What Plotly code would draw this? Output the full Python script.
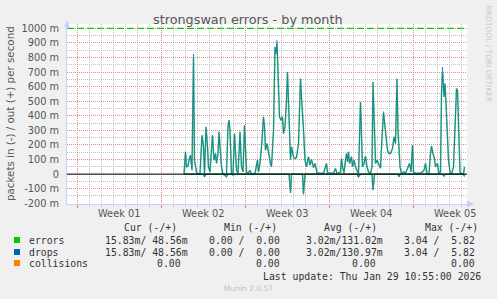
import plotly.graph_objects as go

# ---------------- data (values in milli-packets/s, time in hours since window start 2025-12-28 04:00) ----------
hours = [234, 237, 239, 242, 244, 247, 250, 253, 255, 259,
         262, 266, 270, 273, 275, 278, 281, 283, 286, 289,
         291, 294, 297, 299, 302, 304, 307, 309, 312, 315,
         319, 322, 324, 326, 329, 332, 335, 339, 342, 346,
         349, 352, 355, 359, 362, 366, 369, 376, 381, 383,
         386, 389, 393, 395, 397, 400, 404, 407, 409, 413,
         416, 418, 420, 423, 425, 428, 431, 433, 436, 439,
         441, 444, 447, 449, 453, 456, 459, 463, 465, 467,
         469, 471, 473, 476, 479, 483, 486, 489, 493, 496,
         500, 507, 513, 517, 519, 521, 527, 533, 537, 540,
         547, 549, 551, 554, 557, 559, 561, 563, 565, 569,
         571, 574, 577, 580, 583, 587, 589, 591, 594, 597,
         600, 603, 607, 610, 612, 615, 617, 620, 623, 627,
         630, 633, 636, 639, 641, 644, 647, 651, 654, 657,
         660, 662, 664, 666, 669, 674, 677, 683, 685, 688,
         691, 693, 697, 704, 711, 714, 717, 720, 724, 727,
         729, 732, 735, 737, 741, 744, 747, 749, 751, 754,
         756, 758, 761, 763, 766, 769, 773, 776, 779, 781,
         783, 786, 789, 793, 795]

errors_out = [0, 153, 50, 55, 96, 130, 27, 800, 96, 15,
              0, 5, 267, 187, 0, 324, 187, 50, 15, 187,
              267, 96, 141, 73, 141, 290, 96, 50, 0, 0,
              0, 324, 370, 301, 0, 0, 278, 27, 5, 290,
              50, 15, 335, 15, 5, 27, 0, 5, 96, 15,
              73, 187, 393, 324, 164, 210, 119, 73, 50, 301,
              872, 826, 890, 598, 393, 370, 393, 278, 324, 507,
              700, 393, 100, 187, 119, 107, 114, 210, 507, 655,
              530, 370, 301, 96, 50, 119, 62, 100, 45, 73,
              9, 5, 5, 50, 73, 9, 5, 5, 39, 5,
              15, 107, 50, 9, 96, 141, 85, 153, 73, 119,
              50, 96, 50, 27, 0, 495, 187, 50, 73, 123,
              50, 15, 5, 50, 632, 187, 73, 96, 73, 40,
              250, 420, 324, 187, 164, 141, 141, 176, 256, 210,
              655, 301, 107, 50, 5, 15, 5, 50, 73, 15,
              199, 15, 5, 5, 15, 27, 73, 5, 0, 141,
              192, 141, 107, 50, 73, 5, 15, 552, 700, 530,
              621, 484, 256, 96, 15, 0, 50, 370, 587, 575,
              278, 15, 0, 0, 50]

drops_out = [0, 153, 50, 55, 96, 130, 27, 826, 96, 15,
             0, 5, 267, 187, 0, 324, 187, 50, 15, 187,
             267, 96, 141, 73, 141, 290, 96, 50, 0, 0,
             0, 324, 370, 301, 0, 0, 278, 27, 5, 290,
             50, 15, 335, 15, 5, 27, 0, 5, 96, 15,
             73, 187, 393, 324, 164, 210, 119, 73, 50, 301,
             872, 826, 918, 598, 393, 370, 393, 278, 324, 507,
             700, 393, 100, 187, 119, 107, 114, 210, 507, 655,
             530, 370, 301, 96, 50, 119, 62, 100, 45, 73,
             9, 5, 5, 50, 73, 9, 5, 5, 39, 5,
             15, 107, 50, 9, 96, 141, 85, 153, 73, 119,
             50, 96, 50, 27, 0, 495, 187, 50, 73, 123,
             50, 15, 5, 50, 632, 187, 73, 96, 73, 40,
             250, 430, 324, 187, 164, 141, 141, 176, 256, 210,
             655, 301, 107, 50, 5, 15, 5, 50, 73, 15,
             199, 15, 5, 5, 15, 27, 73, 5, 0, 141,
             192, 141, 107, 50, 73, 5, 15, 552, 735, 530,
             621, 484, 256, 96, 15, 0, 50, 370, 587, 575,
             278, 15, 0, 0, 50]

errors_in = [0, 0, 0, 0, 0, 0, 0, 0, 0, 0,
             0, 0, 0, 0, 18, 0, 0, 0, 0, 0,
             0, 0, 0, 0, 0, 0, 0, 0, 0, 7,
             18, 0, 0, 0, 0, 7, 0, 0, 0, 0,
             0, 0, 0, 0, 0, 0, 0, 0, 0, 0,
             0, 0, 0, 0, 0, 0, 0, 0, 0, 0,
             0, 0, 0, 0, 0, 0, 0, 0, 0, 0,
             0, 0, 125, 0, 0, 0, 0, 0, 0, 0,
             0, 0, 132, 0, 0, 0, 0, 0, 0, 0,
             0, 0, 0, 0, 0, 0, 0, 0, 0, 0,
             0, 0, 0, 0, 0, 0, 0, 0, 0, 0,
             0, 0, 0, 0, 18, 0, 0, 0, 0, 0,
             0, 0, 0, 0, 110, 0, 0, 0, 0, 0,
             0, 0, 0, 0, 0, 0, 0, 0, 0, 0,
             0, 0, 18, 0, 0, 0, 0, 0, 0, 0,
             0, 0, 0, 0, 0, 0, 0, 0, 0, 0,
             0, 0, 0, 0, 0, 0, 0, 0, 0, 13,
             0, 0, 0, 0, 0, 0, 0, 0, 0, 0,
             0, 0, 0, 0, 16]

drops_in = [0, 0, 0, 0, 0, 0, 0, 0, 0, 0,
            0, 0, 0, 0, 18, 0, 0, 0, 0, 0,
            0, 0, 0, 0, 0, 0, 0, 0, 0, 7,
            18, 0, 0, 0, 0, 7, 0, 0, 0, 0,
            0, 0, 0, 0, 0, 0, 0, 0, 0, 0,
            0, 0, 0, 0, 0, 0, 0, 0, 0, 0,
            0, 0, 0, 0, 0, 0, 0, 0, 0, 0,
            0, 0, 130, 0, 0, 0, 0, 0, 0, 0,
            0, 0, 140, 0, 0, 0, 0, 0, 0, 0,
            0, 0, 0, 0, 0, 0, 0, 0, 0, 0,
            0, 0, 0, 0, 0, 0, 0, 0, 0, 0,
            0, 0, 0, 0, 18, 0, 0, 0, 0, 0,
            0, 0, 0, 0, 110, 0, 0, 0, 0, 0,
            0, 0, 0, 0, 0, 0, 0, 0, 0, 0,
            0, 0, 18, 0, 0, 0, 0, 0, 0, 0,
            0, 0, 0, 0, 0, 0, 0, 0, 0, 0,
            0, 0, 0, 0, 0, 0, 0, 0, 0, 13,
            0, 0, 0, 0, 0, 0, 0, 0, 0, 0,
            0, 0, 0, 0, 16]

collisions_value = 0.0           # collisions read as 0.00 everywhere
warning_level = 1000             # dashed green rule (m)
window_hours = 800

week_starts = [20, 188, 356, 524, 692]        # Mondays 00:00
week_labels = ["Week 01", "Week 02", "Week 03", "Week 04", "Week 05"]

y_ticks = [-200, -100, 0, 100, 200, 300, 400, 500, 600, 700, 800, 900, 1000]
y_tick_text = ["-200 m", "-100 m", "0", "100 m", "200 m", "300 m", "400 m",
               "500 m", "600 m", "700 m", "800 m", "900 m", "1000 m"]

series_names = ["errors", "drops", "collisions"]
series_colors = ["#00cc00", "#0066b3", "#ff8000"]
headers = ["Cur (-/+)", "Min (-/+)", "Avg (-/+)", "Max (-/+)"]
table_rows = [
    ["15.83m/ 48.56m", "0.00 /  0.00", "3.02m/131.02m", "3.04 /  5.82"],
    ["15.83m/ 48.56m", "0.00 /  0.00", "3.02m/130.97m", "3.04 /  5.82"],
    ["0.00", "0.00", "0.00", "0.00"],
]
last_update = "Last update: Thu Jan 29 10:55:00 2026"

# ---------------- layout geometry ----------------
W, H = 497, 299
ML, MR, MT, MB = 67, 30, 24, 95
PW, PH = W - ML - MR, H - MT - MB


def fx(px):
    return (px - ML) / PW


def fy(py):
    return (H - MB - py) / PH


fig = go.Figure()

# collisions
fig.add_trace(go.Scatter(x=hours, y=[collisions_value for _ in hours], mode="lines",
                         line=dict(color=series_colors[2], width=1), hoverinfo="skip"))
# errors
fig.add_trace(go.Scatter(x=hours, y=errors_out, mode="lines", opacity=0.55,
                         line=dict(color=series_colors[0], width=1.6), hoverinfo="skip"))
fig.add_trace(go.Scatter(x=hours, y=[-v for v in errors_in], mode="lines", opacity=0.55,
                         line=dict(color=series_colors[0], width=1.6), hoverinfo="skip"))
# drops
fig.add_trace(go.Scatter(x=hours, y=drops_out, mode="lines", opacity=0.75,
                         line=dict(color=series_colors[1], width=1.1), hoverinfo="skip"))
fig.add_trace(go.Scatter(x=hours, y=[-v for v in drops_in], mode="lines", opacity=0.75,
                         line=dict(color=series_colors[1], width=1.1), hoverinfo="skip"))
# zero rule
fig.add_trace(go.Scatter(x=[0, window_hours], y=[0, 0], mode="lines",
                         line=dict(color="#000000", width=1), hoverinfo="skip"))
# warning rule
fig.add_trace(go.Scatter(x=[0, window_hours - 3], y=[warning_level, warning_level], mode="lines",
                         line=dict(color="#00cc00", width=1.4, dash="7px,3px"), hoverinfo="skip"))

red_grid = "rgba(225,120,120,0.75)"
gray_grid = "rgba(180,180,180,0.8)"

fig.update_layout(
    width=W, height=H,
    margin=dict(l=ML, r=MR, t=MT, b=MB, pad=0),
    paper_bgcolor="#f0f0f0", plot_bgcolor="#ffffff",
    showlegend=False,
    font=dict(family="DejaVu Sans", size=10, color="#555555"),
    xaxis=dict(range=[0, window_hours], tickmode="array", tickvals=week_starts,
               showticklabels=False, ticks="outside", ticklen=3, tickcolor="#e08080",
               showgrid=True, gridcolor=red_grid, griddash="1px,1px", gridwidth=1,
               minor=dict(tick0=week_starts[0], dtick=24, showgrid=True, gridcolor=gray_grid,
                          griddash="1px,1px", ticks="outside", ticklen=2, tickcolor="#cccccc"),
               showline=True, linecolor="#ccccff", linewidth=1, zeroline=False, fixedrange=True),
    yaxis=dict(range=[-205, 1030], tickmode="array", tickvals=y_ticks, ticktext=y_tick_text,
               tickfont=dict(size=9.8, color="#555555"), ticks="", ticklabelstandoff=5,
               showgrid=True, gridcolor=red_grid, griddash="1px,1px", gridwidth=1,
               minor=dict(tick0=0, dtick=50, showgrid=True, gridcolor=gray_grid, griddash="1px,1px"),
               showline=True, linecolor="#ccccff", linewidth=1, zeroline=False, fixedrange=True),
)

ann = []
# title
ann.append(dict(text="strongswan errors - by month", x=fx(248), y=fy(19), xref="paper", yref="paper",
                showarrow=False, font=dict(size=12.8, color="#555555"), xanchor="center", yanchor="middle"))
# y axis title
ann.append(dict(text="packets in (-) / out (+) per second", x=fx(10), y=fy(114), xref="paper", yref="paper",
                showarrow=False, textangle=-90, font=dict(size=10.3, color="#555555"),
                xanchor="center", yanchor="middle"))
# right vertical credit
ann.append(dict(text="RRDTOOL / TOBI OETIKER", x=fx(487.5), y=fy(54), xref="paper", yref="paper",
                showarrow=False, textangle=90, font=dict(size=7.5, color="#c8c8c8"),
                xanchor="center", yanchor="middle"))
# week labels (centred within each week)
for ws, lab in zip(week_starts, week_labels):
    ann.append(dict(text=lab, x=ws + 84, y=fy(213), xref="x", yref="paper", showarrow=False,
                    font=dict(size=9.8, color="#555555"), xanchor="center", yanchor="middle"))

mono = "DejaVu Sans Mono"
nb = lambda s: s.replace(" ", "\u00a0")
header_left = [122, 222, 322, 423]
for hx, htxt in zip(header_left, headers):
    ann.append(dict(text=nb(htxt), x=fx(hx), y=fy(227), xref="paper", yref="paper", showarrow=False,
                    font=dict(family=mono, size=9.8, color="#333333"), xanchor="left", yanchor="middle"))

row_y = [240, 252, 263]
col_right = [[190, 282, 385, 477], [190, 282, 385, 477], [183, 282, 378, 477]]
shapes = []
for name, color, ry, vals, rights in zip(series_names, series_colors, row_y, table_rows, col_right):
    shapes.append(dict(type="rect", xref="paper", yref="paper", x0=fx(14), x1=fx(20),
                       y0=fy(ry + 3), y1=fy(ry - 3), fillcolor=color, line=dict(width=0)))
    ann.append(dict(text=name, x=fx(27), y=fy(ry), xref="paper", yref="paper", showarrow=False,
                    font=dict(family=mono, size=9.8, color="#333333"), xanchor="left", yanchor="middle"))
    for v, rx in zip(vals, rights):
        ann.append(dict(text=nb(v), x=fx(rx), y=fy(ry), xref="paper", yref="paper", showarrow=False,
                        font=dict(family=mono, size=9.8, color="#333333"), xanchor="right", yanchor="middle"))

ann.append(dict(text=nb(last_update), x=fx(483), y=fy(276), xref="paper", yref="paper", showarrow=False,
                font=dict(family=mono, size=9.8, color="#333333"), xanchor="right", yanchor="middle"))
ann.append(dict(text="Munin 2.0.57", x=fx(248), y=fy(288), xref="paper", yref="paper", showarrow=False,
                font=dict(size=7.5, color="#c0c0c0"), xanchor="center", yanchor="middle"))

# axis arrows
shapes.append(dict(type="path", xref="paper", yref="paper",
                   path=f"M {fx(64)} {fy(27)} L {fx(67)} {fy(20)} L {fx(70)} {fy(27)} Z",
                   fillcolor="#ccccff", line=dict(width=0)))
shapes.append(dict(type="line", xref="paper", yref="paper", x0=fx(67), x1=fx(67), y0=fy(24), y1=fy(21),
                   line=dict(color="#ccccff", width=1)))
shapes.append(dict(type="path", xref="paper", yref="paper",
                   path=f"M {fx(467)} {fy(200.5)} L {fx(474)} {fy(204)} L {fx(467)} {fy(207.5)} Z",
                   fillcolor="#ccccff", line=dict(width=0)))

fig.update_layout(annotations=ann, shapes=shapes)

fig.write_html("out.html")
